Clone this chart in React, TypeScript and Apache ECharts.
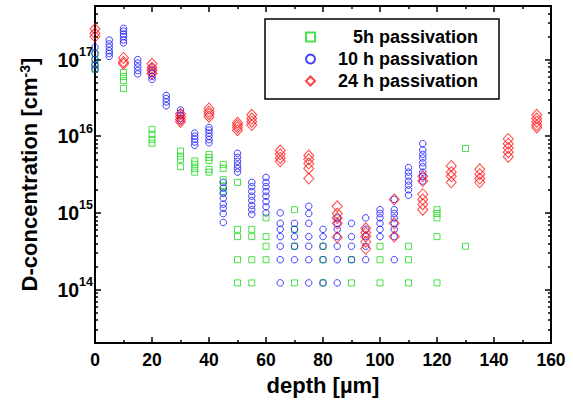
import React, { useEffect, useRef } from 'react';
import * as echarts from 'echarts';

// ---- data (depth in µm, concentration in cm^-3) ----
const depths5h = [0, 10, 20, 30, 35, 40, 45, 50, 55, 60, 70, 80, 90, 100, 110, 120, 130];
const conc5h = [
  [1.2e17, 1.0e17, 8.5e16, 7.5e16],
  [6.8e16, 6.0e16, 5.3e16, 4.2e16],
  [1.23e16, 1.06e16, 9.1e15, 8.1e15],
  [6.4e15, 5.5e15, 5.0e15, 4.0e15],
  [4.75e15, 4.3e15, 3.8e15, 3.4e15],
  [5.8e15, 5.3e15, 4.8e15, 3.7e15, 3.4e15],
  [4.3e15, 3.8e15, 2.7e15, 2.2e15, 1.9e15],
  [2.5e15, 6.1e14, 4.9e14, 2.45e14, 1.22e14],
  [6.1e14, 4.9e14, 2.45e14, 1.22e14],
  [8.6e14, 4.9e14, 3.67e14, 2.45e14],
  [1.1e15, 6.1e14, 3.67e14, 1.22e14],
  [3.67e14, 2.45e14, 1.22e14],
  [2.45e14, 1.22e14],
  [3.67e14, 2.45e14, 1.22e14],
  [3.67e14, 2.45e14, 1.22e14],
  [1.1e15, 9.8e14, 8.6e14, 4.9e14, 1.22e14],
  [6.9e15, 3.67e14],
];

const depths10h = [0, 5, 10, 15, 20, 25, 30, 35, 40, 45, 50, 55, 60, 65, 70, 75, 80, 85, 90, 95, 100, 105, 110, 115];
const conc10h = [
  [1.45e17, 1.2e17, 1.0e17, 8.5e16, 7.5e16],
  [1.8e17, 1.6e17, 1.45e17, 1.3e17, 1.2e17, 1.1e17],
  [2.55e17, 2.35e17, 2.15e17, 2.0e17, 1.8e17, 1.65e17],
  [1.0e17, 9.0e16, 8.0e16, 7.2e16, 6.5e16],
  [8.0e16, 7.2e16, 6.6e16, 6.0e16, 5.5e16],
  [3.4e16, 3.1e16, 2.8e16, 2.5e16],
  [2.2e16, 2.0e16, 1.85e16, 1.7e16, 1.6e16],
  [1.1e16, 1.0e16, 9.2e15, 8.4e15, 7.6e15],
  [1.3e16, 1.2e16, 1.1e16, 1.0e16, 9.0e15, 8.2e15],
  [2.5e15, 2.1e15, 1.8e15, 1.55e15, 1.3e15, 1.15e15, 9.8e14, 7.5e14],
  [6.0e15, 5.3e15, 4.7e15, 4.2e15, 3.8e15, 3.4e15],
  [2.5e15, 2.2e15, 1.9e15, 1.65e15, 1.45e15, 1.25e15, 1.1e15, 9.6e14],
  [2.9e15, 2.5e15, 2.2e15, 1.9e15, 1.65e15, 1.4e15, 1.2e15, 1.0e15],
  [1.0e15, 7.3e14, 6.1e14, 4.9e14, 3.67e14, 2.45e14, 1.22e14],
  [7.3e14, 6.1e14, 4.9e14, 3.67e14, 2.45e14],
  [1.22e15, 9.8e14, 7.3e14, 4.9e14, 3.67e14, 2.45e14, 1.22e14],
  [6.1e14, 4.9e14, 3.67e14, 2.45e14, 1.22e14],
  [8.6e14, 7.3e14, 6.1e14, 4.9e14, 3.67e14, 2.45e14, 1.22e14],
  [7.3e14, 4.9e14, 3.67e14, 2.45e14],
  [8.6e14, 6.1e14, 4.9e14, 3.67e14, 2.45e14],
  [1.1e15, 9.8e14, 8.6e14, 7.3e14, 6.1e14, 4.9e14],
  [1.5e15, 1.1e15, 9.8e14, 8.6e14, 7.3e14, 6.1e14, 4.9e14, 2.45e14],
  [3.9e15, 3.4e15, 3.0e15, 2.6e15, 2.3e15, 2.0e15, 1.7e15],
  [8.0e15, 6.6e15, 5.8e15, 5.2e15, 4.5e15, 4.0e15, 3.4e15, 3.0e15, 2.6e15],
];

const depths24h = [0, 10, 20, 30, 40, 50, 55, 65, 75, 85, 95, 105, 115, 125, 135, 145, 155];
const conc24h = [
  [2.5e17, 2.2e17, 2.0e17],
  [1.05e17, 9.3e16, 8.8e16],
  [8.8e16, 7.8e16, 7.2e16, 6.6e16],
  [1.95e16, 1.8e16, 1.65e16, 1.55e16],
  [2.3e16, 2.1e16, 1.95e16, 1.8e16],
  [1.5e16, 1.4e16, 1.3e16, 1.2e16],
  [1.9e16, 1.7e16, 1.55e16, 1.4e16],
  [6.5e15, 5.8e15, 5.2e15, 4.7e15],
  [5.6e15, 5.0e15, 4.4e15, 3.8e15, 2.8e15],
  [1.22e15, 9.8e14, 8.6e14, 7.3e14, 4.8e14],
  [6.3e14, 5.5e14, 4.9e14, 4.2e14, 3.4e14],
  [1.5e15, 7.3e14, 4.9e14],
  [3.0e15, 2.6e15, 1.75e15, 1.5e15, 1.3e15, 1.1e15],
  [4.1e15, 3.4e15, 3.0e15, 2.5e15],
  [3.7e15, 3.2e15, 2.8e15, 2.5e15],
  [9.2e15, 8.0e15, 7.0e15, 6.2e15, 5.4e15],
  [1.9e16, 1.7e16, 1.55e16, 1.4e16, 1.3e16],
];

const seriesNames = ['5h passivation', '10 h passivation', '24 h passivation'];
const xMin = 0;
const xMax = 160;
const xStep = 20;
const yMin = 2e13;
const yMax = 5e17;

const FONT = 'Liberation Sans, Arial, Helvetica, sans-serif';
const GREEN = '#1ed81e';
const BLUE = '#1414ff';
const RED = '#ff1414';

function toPoints(depths: number[], conc: number[][]) {
  const pts: number[][] = [];
  depths.forEach((d, i) => conc[i].forEach((v) => pts.push([d, v])));
  return pts;
}

const mkLine = () => ({ show: true, onZero: false, lineStyle: { color: '#000', width: 2 } });
const mkTick = (len: number, custom?: number[]) => {
  const t: any = { show: true, inside: true, length: len, lineStyle: { color: '#000', width: 1.5 } };
  if (custom) t.customValues = custom;
  return t;
};

export default function App() {
  const ref = useRef<HTMLDivElement>(null);

  useEffect(() => {
    const chart = echarts.init(ref.current!, null, { renderer: 'svg' });
    const lMin = Math.log10(yMin);
    const lMax = Math.log10(yMax);
    const minor: number[] = [];
    for (let n = 13; n <= 17; n++) {
      for (let k = 2; k <= 9; k++) {
        const l = n + Math.log10(k);
        if (l >= lMin - 1e-9 && l <= lMax + 1e-9) minor.push(l);
      }
    }

    const mkX = (pos: string) => ({
      type: 'value',
      position: pos,
      min: xMin,
      max: xMax,
      interval: xStep,
      axisLine: mkLine(),
      axisTick: mkTick(6),
      minorTick: { show: true, splitNumber: 2, length: 3, lineStyle: { color: '#000', width: 1.5 } },
      splitLine: { show: false },
      minorSplitLine: { show: false },
    });

    const mkMinorY = (pos: string) => ({
      type: 'value',
      min: lMin,
      max: lMax,
      position: pos,
      axisLine: { show: false, onZero: false },
      axisTick: mkTick(3, minor.slice()),
      axisLabel: { show: false },
      splitLine: { show: false },
    });

    const option: any = {
      animation: false,
      backgroundColor: '#fff',
      grid: { left: 95, right: 22, top: 6, bottom: 57, containLabel: false },
      legend: {
        data: seriesNames,
        orient: 'vertical',
        left: 265,
        top: 19,
        padding: [9, 21, 9, 40],
        borderColor: '#000',
        borderWidth: 1.5,
        itemGap: 4,
        itemWidth: 9,
        itemHeight: 9,
        formatter: (name: string) => `{r|${name}}`,
        textStyle: {
          color: '#000',
          fontFamily: FONT,
          fontWeight: 'bold',
          fontSize: 18,
          rich: {
            r: { width: 158, align: 'right', fontSize: 18, fontWeight: 'bold', fontFamily: FONT, color: '#000' },
          },
        },
      },
      xAxis: [
        {
          ...mkX('bottom'),
          name: 'depth [µm]',
          nameLocation: 'middle',
          nameGap: 28,
          nameTextStyle: { fontSize: 22, fontWeight: 'bold', fontFamily: FONT, color: '#000' },
          axisLabel: { show: true, margin: 8, fontSize: 17.5, fontWeight: 'bold', fontFamily: FONT, color: '#000' },
        },
        { ...mkX('top'), axisLabel: { show: false } },
      ],
      yAxis: [
        {
          type: 'log',
          logBase: 10,
          min: yMin,
          max: yMax,
          position: 'left',
          axisLine: mkLine(),
          axisTick: mkTick(6),
          splitLine: { show: false },
          name: 'D-concentration [cm{s|-3}]',
          nameLocation: 'middle',
          nameRotate: 90,
          nameGap: 55,
          nameTextStyle: {
            fontSize: 22,
            fontWeight: 'bold',
            fontFamily: FONT,
            color: '#000',
            rich: { s: { fontSize: 14, fontWeight: 'bold', fontFamily: FONT, color: '#000', verticalAlign: 'top', lineHeight: 14 } },
          },
          axisLabel: {
            show: true,
            margin: 2,
            showMinLabel: false,
            showMaxLabel: false,
            formatter: (v: number) => {
              const e = Math.log10(v);
              const r = Math.round(e);
              if (Math.abs(e - r) > 1e-6) return '';
              return `{b|10}{s|${r}}`;
            },
            rich: {
              b: { fontSize: 19.5, fontWeight: 'bold', fontFamily: FONT, color: '#000', lineHeight: 28 },
              s: { fontSize: 12.5, fontWeight: 'bold', fontFamily: FONT, color: '#000', verticalAlign: 'top', lineHeight: 13 },
            },
          },
        },
        {
          type: 'log',
          logBase: 10,
          min: yMin,
          max: yMax,
          position: 'right',
          axisLine: mkLine(),
          axisTick: mkTick(6),
          splitLine: { show: false },
          axisLabel: { show: false },
        },
        mkMinorY('left'),
        mkMinorY('right'),
      ],
      series: [
        {
          type: 'scatter',
          name: seriesNames[0],
          xAxisIndex: 0,
          yAxisIndex: 0,
          symbol: 'rect',
          symbolSize: 6,
          data: toPoints(depths5h, conc5h),
          itemStyle: { color: 'transparent', borderColor: GREEN, borderWidth: 1 },
        },
        {
          type: 'scatter',
          name: seriesNames[1],
          xAxisIndex: 0,
          yAxisIndex: 0,
          symbol: 'circle',
          symbolSize: 6.5,
          data: toPoints(depths10h, conc10h),
          itemStyle: { color: 'transparent', borderColor: BLUE, borderWidth: 1 },
        },
        {
          type: 'scatter',
          name: seriesNames[2],
          xAxisIndex: 0,
          yAxisIndex: 0,
          symbol: 'diamond',
          symbolSize: [10, 11],
          data: toPoints(depths24h, conc24h),
          itemStyle: { color: 'transparent', borderColor: RED, borderWidth: 1 },
        },
      ],
    };

    chart.setOption(option);
    return () => chart.dispose();
  }, []);

  return <div ref={ref} style={{ position: 'fixed', left: 0, top: 0, width: 573, height: 401 }} />;
}
